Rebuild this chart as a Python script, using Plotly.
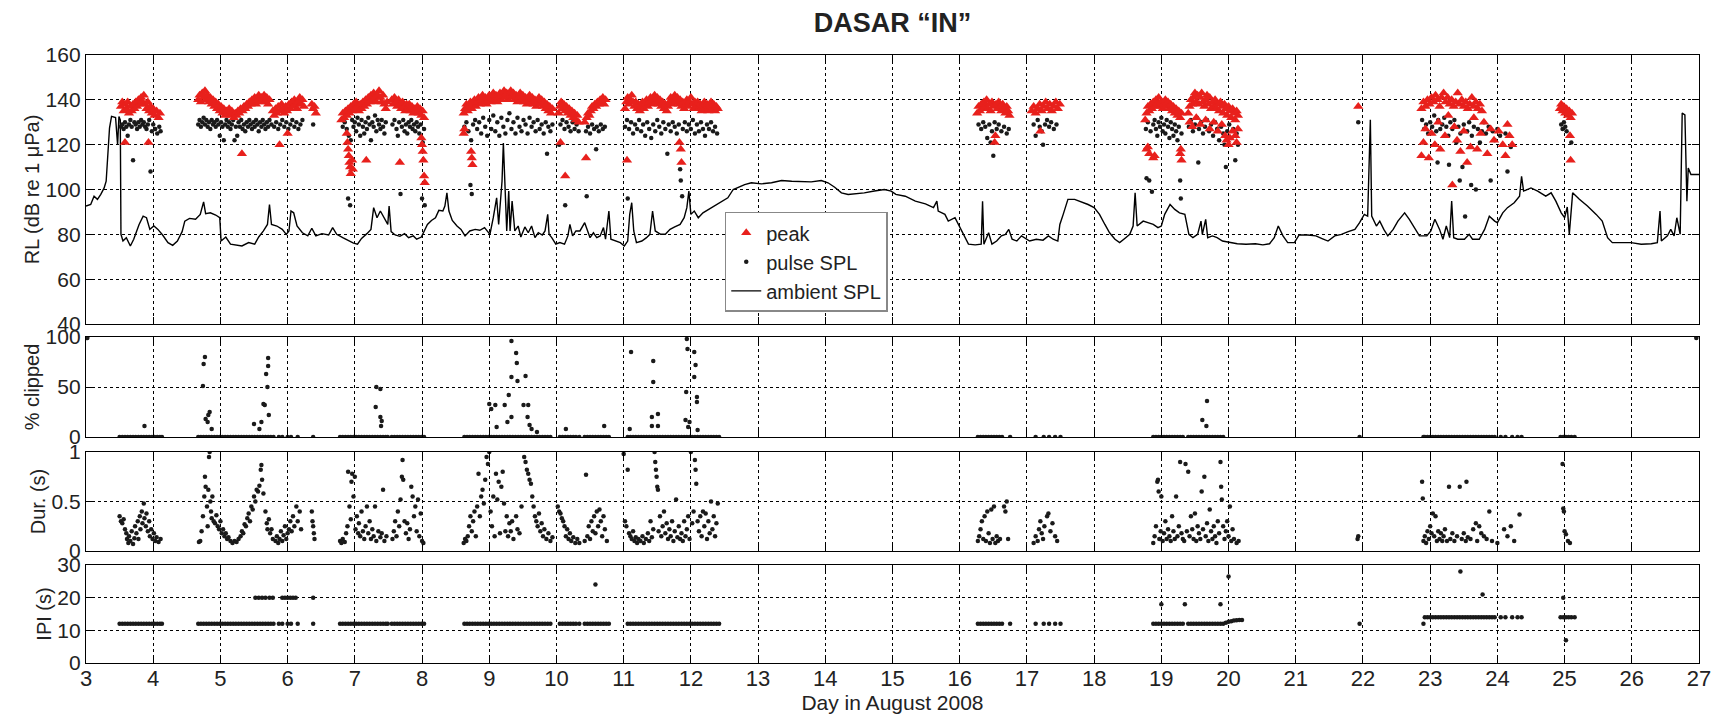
import plotly.graph_objects as go
from plotly.subplots import make_subplots

# ambient SPL (day, dB)
ambient = [
    (3.00, 92.6), (3.07, 93.3), (3.12, 97.0), (3.17, 95.6), (3.22, 97.8), (3.27, 100.7), (3.30, 103.7),
    (3.33, 115.6), (3.35, 127.4), (3.38, 132.6), (3.44, 132.1), (3.47, 120.0), (3.49, 132.6), (3.51, 131.0),
    (3.52, 80.0), (3.55, 77.0), (3.60, 78.5), (3.66, 74.8), (3.71, 77.8), (3.79, 84.4), (3.85, 88.1),
    (3.90, 87.4), (3.95, 82.2), (4.01, 83.7), (4.07, 82.2), (4.14, 79.7), (4.22, 76.3), (4.29, 75.1),
    (4.36, 77.0), (4.43, 81.2), (4.47, 85.9), (4.54, 87.1), (4.63, 86.7), (4.70, 88.9), (4.75, 94.5),
    (4.78, 89.2), (4.85, 89.6), (4.93, 88.6), (4.99, 87.4), (5.01, 77.0), (5.08, 78.8), (5.15, 75.6),
    (5.22, 75.3), (5.32, 74.8), (5.42, 76.3), (5.51, 75.6), (5.57, 78.8), (5.64, 81.5), (5.70, 84.4),
    (5.73, 93.3), (5.76, 84.4), (5.84, 83.7), (5.92, 82.2), (5.98, 80.0), (6.02, 81.5), (6.05, 90.4),
    (6.09, 89.6), (6.14, 83.7), (6.22, 80.7), (6.30, 79.3), (6.36, 82.7), (6.42, 79.3), (6.51, 80.3),
    (6.61, 79.7), (6.67, 83.0), (6.73, 80.0), (6.82, 78.5), (6.91, 77.0), (6.98, 76.1), (7.04, 75.6),
    (7.10, 78.2), (7.18, 80.3), (7.24, 82.2), (7.28, 91.9), (7.33, 87.4), (7.38, 90.4), (7.44, 87.1),
    (7.49, 84.4), (7.51, 92.6), (7.54, 81.2), (7.60, 79.7), (7.67, 79.1), (7.74, 80.3), (7.80, 78.5),
    (7.87, 79.3), (7.92, 77.8), (7.99, 78.8), (8.03, 81.5), (8.08, 84.4), (8.14, 86.2), (8.20, 87.4),
    (8.25, 90.7), (8.31, 90.4), (8.34, 92.6), (8.37, 98.5), (8.40, 90.4), (8.45, 86.2), (8.52, 83.7),
    (8.58, 82.2), (8.64, 79.3), (8.71, 81.5), (8.79, 82.2), (8.86, 81.8), (8.93, 83.0), (8.99, 80.7),
    (9.01, 80.0), (9.06, 87.4), (9.11, 96.3), (9.14, 84.4), (9.19, 103.7), (9.21, 120.7), (9.24, 90.4),
    (9.26, 81.5), (9.29, 99.3), (9.31, 81.5), (9.34, 94.8), (9.38, 81.5), (9.43, 83.7), (9.47, 78.8),
    (9.53, 83.3), (9.58, 80.7), (9.63, 83.7), (9.68, 78.5), (9.73, 80.7), (9.79, 79.7), (9.83, 81.5),
    (9.87, 88.9), (9.89, 80.0), (9.93, 78.5), (9.99, 75.6), (10.05, 76.3), (10.12, 75.6), (10.17, 79.3),
    (10.20, 84.4), (10.24, 79.3), (10.29, 81.5), (10.35, 81.5), (10.42, 85.2), (10.45, 83.0), (10.50, 78.5),
    (10.55, 80.7), (10.60, 78.5), (10.65, 79.3), (10.70, 83.0), (10.73, 77.8), (10.78, 90.4), (10.81, 77.8),
    (10.87, 77.0), (10.95, 76.3), (11.01, 74.8), (11.06, 77.0), (11.09, 88.9), (11.12, 94.1), (11.15, 81.5),
    (11.19, 76.3), (11.27, 77.0), (11.34, 78.5), (11.39, 80.0), (11.43, 90.4), (11.47, 81.5), (11.55, 80.0),
    (11.62, 80.0), (11.69, 82.2), (11.76, 83.3), (11.84, 84.4), (11.90, 87.4), (11.94, 91.9), (11.97, 99.3),
    (12.00, 88.9), (12.05, 90.4), (12.11, 87.4), (12.18, 89.6), (12.26, 91.1), (12.36, 92.6), (12.46, 94.8),
    (12.55, 96.3), (12.63, 100.0), (12.70, 101.0), (12.80, 102.2), (12.90, 103.0), (13.05, 102.5),
    (13.20, 103.0), (13.35, 104.0), (13.50, 103.7), (13.64, 103.7), (13.79, 103.4), (13.94, 104.0),
    (14.04, 103.0), (14.14, 101.0), (14.24, 98.5), (14.34, 97.8), (14.44, 98.1), (14.58, 98.5),
    (14.73, 99.3), (14.88, 100.0), (14.98, 99.3), (15.05, 97.8), (15.19, 97.0), (15.34, 94.8),
    (15.49, 93.6), (15.61, 91.9), (15.66, 94.8), (15.68, 90.4), (15.78, 88.9), (15.83, 85.9), (15.93, 87.4),
    (15.98, 84.4), (16.05, 80.7), (16.13, 75.6), (16.23, 75.3), (16.32, 75.6), (16.34, 94.8), (16.36, 75.6),
    (16.43, 80.7), (16.48, 75.6), (16.55, 77.0), (16.62, 79.3), (16.68, 80.0), (16.73, 82.2), (16.78, 77.8),
    (16.85, 77.0), (16.92, 79.3), (16.98, 78.2), (17.04, 77.0), (17.14, 77.8), (17.24, 77.4), (17.32, 79.3),
    (17.39, 77.8), (17.46, 77.0), (17.49, 84.4), (17.54, 88.9), (17.61, 95.6), (17.71, 95.6), (17.81, 94.5),
    (17.91, 93.3), (18.00, 91.9), (18.08, 88.9), (18.16, 84.4), (18.23, 80.7), (18.31, 77.8), (18.38, 76.3),
    (18.47, 78.5), (18.53, 80.0), (18.58, 83.7), (18.61, 98.5), (18.64, 83.7), (18.73, 85.9), (18.80, 85.2),
    (18.88, 84.4), (18.95, 83.0), (19.00, 83.7), (19.05, 88.9), (19.13, 93.3), (19.20, 91.1), (19.27, 89.6),
    (19.35, 88.9), (19.41, 80.0), (19.47, 78.5), (19.54, 80.0), (19.59, 85.9), (19.61, 80.0), (19.66, 86.7),
    (19.69, 78.5), (19.76, 79.3), (19.83, 78.5), (19.91, 77.0), (20.01, 76.3), (20.13, 75.8), (20.26, 75.6),
    (20.40, 75.8), (20.51, 75.3), (20.61, 75.8), (20.68, 78.5), (20.74, 83.7), (20.81, 79.3), (20.88, 76.3),
    (20.98, 76.3), (21.05, 79.7), (21.18, 79.7), (21.30, 79.3), (21.40, 78.0), (21.48, 77.0), (21.58, 79.3),
    (21.68, 80.0), (21.78, 81.2), (21.88, 82.2), (21.95, 85.2), (22.02, 88.9), (22.07, 88.1), (22.11, 131.1),
    (22.13, 88.1), (22.20, 83.7), (22.25, 85.9), (22.31, 82.2), (22.37, 79.3), (22.45, 82.2), (22.52, 85.9),
    (22.62, 89.6), (22.69, 86.7), (22.77, 83.0), (22.84, 79.3), (22.95, 79.3), (23.01, 81.5), (23.07, 86.7),
    (23.14, 82.2), (23.19, 77.8), (23.24, 83.7), (23.29, 78.5), (23.32, 94.8), (23.35, 78.5), (23.41, 77.8),
    (23.51, 77.8), (23.58, 80.0), (23.63, 77.8), (23.73, 77.8), (23.81, 82.2), (23.88, 88.1), (23.96, 85.9),
    (24.00, 85.2), (24.08, 89.6), (24.15, 91.9), (24.25, 94.1), (24.33, 97.0), (24.36, 105.9), (24.39, 99.3),
    (24.50, 100.7), (24.60, 99.3), (24.72, 97.0), (24.80, 98.5), (24.87, 94.8), (24.95, 89.6), (25.00, 87.4),
    (25.04, 92.2), (25.07, 80.0), (25.12, 98.5), (25.22, 95.6), (25.34, 92.6), (25.47, 88.9), (25.56, 85.9),
    (25.64, 78.5), (25.71, 76.3), (25.84, 76.3), (25.99, 76.3), (26.14, 75.6), (26.29, 75.8), (26.38, 76.3),
    (26.42, 90.4), (26.44, 77.0), (26.53, 79.3), (26.58, 82.2), (26.63, 79.3), (26.67, 87.4), (26.72, 80.0),
    (26.75, 134.1), (26.79, 133.3), (26.82, 94.8), (26.84, 109.6), (26.88, 106.7), (27.00, 106.7),
]

# peak RL (day, dB)
peak = [
    (3.52, 137), (3.54, 139), (3.56, 135), (3.58, 138), (3.60, 136), (3.62, 139), (3.64, 134), (3.66, 137),
    (3.68, 135), (3.70, 138), (3.72, 136), (3.74, 139), (3.76, 137), (3.78, 140), (3.80, 138), (3.82, 141),
    (3.84, 139), (3.86, 142), (3.88, 138), (3.90, 136), (3.92, 139), (3.94, 135), (3.96, 137), (3.98, 134),
    (4.00, 136), (4.02, 133), (4.05, 135), (4.08, 132), (4.10, 134), (3.58, 121), (3.93, 121),
    (4.67, 140), (4.69, 142), (4.71, 139), (4.73, 143), (4.75, 141), (4.77, 144), (4.79, 140), (4.81, 142),
    (4.83, 139), (4.85, 141), (4.87, 138), (4.89, 140), (4.91, 137), (4.93, 139), (4.95, 136), (4.97, 138),
    (4.99, 135), (5.01, 137), (5.03, 134), (5.05, 136), (5.07, 133), (5.09, 135), (5.11, 134), (5.13, 136),
    (5.15, 133), (5.17, 135), (5.20, 132), (5.22, 134), (5.24, 133), (5.26, 135), (5.28, 134), (5.30, 136),
    (5.32, 116), (5.33, 135), (5.35, 137), (5.37, 136), (5.39, 138), (5.41, 137), (5.43, 139), (5.45, 138),
    (5.47, 140), (5.49, 139), (5.51, 141), (5.53, 138), (5.55, 140), (5.57, 142), (5.59, 139), (5.61, 141),
    (5.63, 140), (5.65, 142), (5.67, 139), (5.69, 141), (5.71, 138), (5.73, 140), (5.78, 135), (5.80, 133),
    (5.82, 136), (5.84, 134), (5.86, 137), (5.88, 120), (5.89, 135), (5.91, 138), (5.93, 136), (5.95, 134),
    (5.97, 137), (5.99, 135), (6.00, 125), (6.02, 138), (6.04, 136), (6.06, 139), (6.08, 137), (6.10, 140),
    (6.12, 138), (6.14, 136), (6.16, 139), (6.18, 141), (6.20, 138), (6.22, 140), (6.24, 137),
    (6.36, 138), (6.38, 136), (6.40, 137), (6.42, 134),
    (6.80, 131), (6.82, 134), (6.84, 132), (6.86, 135), (6.88, 133), (6.90, 136), (6.92, 134), (6.94, 137),
    (6.96, 135), (6.98, 138), (7.00, 136), (7.02, 139), (7.04, 137), (7.06, 135), (7.08, 138), (7.10, 136),
    (7.12, 139), (7.14, 137), (7.16, 140), (7.18, 138), (7.20, 141), (7.22, 139), (7.24, 142), (7.26, 140),
    (7.28, 143), (7.30, 141), (7.32, 139), (7.34, 142), (7.36, 144), (7.38, 141), (7.40, 139), (7.42, 142),
    (7.44, 138), (7.46, 136), (7.48, 139), (6.88, 125), (6.89, 121), (6.90, 118), (6.91, 115), (6.92, 112),
    (6.93, 110), (6.94, 107), (6.96, 113), (6.97, 109), (7.17, 113),
    (7.55, 140), (7.57, 138), (7.59, 141), (7.61, 139), (7.63, 137), (7.65, 140), (7.67, 138), (7.69, 136),
    (7.71, 139), (7.73, 137), (7.75, 135), (7.77, 138), (7.79, 136), (7.81, 138), (7.83, 135), (7.85, 137),
    (7.87, 134), (7.89, 136), (7.91, 135), (7.93, 137), (7.95, 134), (7.97, 136), (7.99, 133), (8.01, 135),
    (8.03, 132), (7.67, 112), (7.99, 123), (8.00, 120), (8.01, 117), (8.02, 113), (8.03, 106), (8.04, 103),
    (8.62, 134), (8.64, 136), (8.66, 138), (8.68, 135), (8.70, 137), (8.72, 139), (8.74, 136), (8.76, 138),
    (8.78, 140), (8.80, 137), (8.82, 139), (8.84, 141), (8.86, 138), (8.88, 140), (8.90, 142), (8.92, 139),
    (8.94, 141), (8.96, 138), (8.98, 140), (9.00, 142), (9.02, 139), (9.04, 141), (9.06, 143), (9.08, 140),
    (9.10, 142), (9.12, 139), (9.14, 141), (9.16, 143), (9.18, 140), (9.20, 142), (9.22, 144), (9.24, 141),
    (9.26, 143), (9.28, 140), (9.30, 142), (9.32, 144), (9.34, 141), (9.36, 143), (9.38, 140), (9.40, 142),
    (9.42, 139), (9.44, 141), (9.46, 143), (9.48, 140), (9.50, 142), (9.52, 139), (9.54, 141), (9.56, 138),
    (9.58, 140), (9.60, 142), (9.62, 139), (9.64, 141), (9.66, 138), (9.68, 140), (9.70, 137), (9.72, 139),
    (9.74, 141), (9.76, 138), (9.78, 140), (9.80, 137), (9.82, 139), (9.84, 136), (9.86, 138), (9.88, 135),
    (9.90, 137), (9.92, 134), (9.94, 136), (8.62, 125), (8.63, 127), (8.73, 117), (8.74, 114), (8.75, 111),
    (10.03, 134), (10.05, 137), (10.07, 139), (10.09, 136), (10.11, 138), (10.13, 135), (10.15, 137),
    (10.17, 134), (10.19, 136), (10.21, 133), (10.23, 135), (10.25, 132), (10.27, 134), (10.29, 131),
    (10.31, 133), (10.33, 130), (10.06, 121), (10.13, 106),
    (10.42, 130), (10.44, 114), (10.45, 132), (10.47, 134), (10.49, 133), (10.51, 135), (10.53, 137),
    (10.55, 136), (10.57, 138), (10.59, 137), (10.61, 139), (10.63, 138), (10.65, 140), (10.67, 139),
    (10.69, 141), (10.71, 138), (10.73, 140),
    (11.02, 136), (11.04, 139), (11.06, 141), (11.08, 138), (11.10, 140), (11.12, 142), (11.14, 139),
    (11.16, 137), (11.18, 139), (11.20, 136), (11.22, 138), (11.24, 135), (11.26, 137), (11.28, 139),
    (11.30, 136), (11.32, 138), (11.34, 140), (11.36, 137), (11.38, 139), (11.40, 141), (11.42, 138),
    (11.44, 140), (11.46, 142), (11.48, 139), (11.50, 141), (11.52, 138), (11.54, 140), (11.56, 137),
    (11.58, 139), (11.60, 136), (11.62, 138), (11.64, 135), (11.66, 137), (11.68, 139), (11.70, 141),
    (11.72, 138), (11.74, 140), (11.76, 142), (11.78, 139), (11.80, 141), (11.82, 138), (11.84, 140),
    (11.86, 137), (11.88, 139), (11.90, 136), (11.92, 138), (11.94, 140), (11.96, 137), (11.98, 139),
    (12.00, 141), (12.02, 138), (12.04, 136), (12.06, 139), (12.08, 137), (12.10, 139), (12.12, 136),
    (12.14, 138), (12.16, 135), (12.18, 137), (12.20, 139), (12.22, 136), (12.24, 138), (12.26, 135),
    (12.28, 137), (12.30, 139), (12.32, 136), (12.34, 138), (12.36, 135), (12.38, 137), (12.40, 136),
    (11.05, 113), (11.83, 121), (11.85, 118), (11.86, 112),
    (16.26, 134), (16.28, 137), (16.30, 135), (16.32, 138), (16.34, 136), (16.36, 139), (16.38, 137),
    (16.40, 140), (16.42, 136), (16.44, 138), (16.46, 135), (16.48, 139), (16.50, 137), (16.52, 121),
    (16.53, 124), (16.54, 138), (16.56, 136), (16.58, 139), (16.60, 137), (16.62, 135), (16.64, 138),
    (16.66, 136), (16.68, 134), (16.70, 137), (16.72, 135), (16.74, 133),
    (17.07, 135), (17.10, 137), (17.13, 134), (17.16, 136), (17.19, 138), (17.20, 126), (17.22, 135),
    (17.25, 137), (17.28, 139), (17.31, 136), (17.34, 138), (17.37, 135), (17.40, 137), (17.43, 139),
    (17.46, 136), (17.49, 138),
    (18.76, 131), (18.78, 134), (18.80, 137), (18.82, 135), (18.84, 138), (18.86, 136), (18.88, 139),
    (18.90, 137), (18.92, 140), (18.94, 138), (18.96, 141), (18.98, 137), (19.00, 139), (19.02, 136),
    (19.04, 138), (19.06, 140), (19.08, 137), (19.10, 139), (19.12, 136), (19.14, 138), (19.16, 135),
    (19.18, 137), (19.20, 134), (19.22, 136), (19.24, 133), (19.26, 135), (19.28, 132), (19.30, 134),
    (18.78, 118), (18.80, 119), (18.82, 116), (18.88, 114), (18.90, 115), (19.28, 116), (19.30, 113),
    (19.29, 118),
    (19.40, 134), (19.42, 137), (19.44, 140), (19.46, 138), (19.48, 141), (19.50, 143), (19.52, 139),
    (19.54, 142), (19.56, 138), (19.58, 141), (19.60, 143), (19.62, 139), (19.64, 137), (19.66, 140),
    (19.68, 142), (19.70, 138), (19.72, 141), (19.74, 136), (19.76, 139), (19.78, 137), (19.80, 140),
    (19.82, 136), (19.84, 138), (19.86, 135), (19.88, 139), (19.90, 137), (19.92, 134), (19.94, 138),
    (19.96, 136), (19.98, 133), (20.00, 137), (20.02, 135), (20.04, 132), (20.06, 136), (20.08, 134),
    (20.10, 131), (20.12, 135), (20.14, 133), (19.42, 130), (19.46, 128), (19.52, 132), (19.58, 129),
    (19.66, 131), (19.72, 127), (19.78, 130), (19.84, 126), (19.90, 129), (19.95, 124), (19.97, 122),
    (20.00, 120), (20.02, 123), (20.06, 126), (20.10, 124), (20.12, 121), (20.14, 127),
    (21.93, 137),
    (22.87, 136), (22.90, 139), (22.93, 137), (22.96, 140), (22.99, 138), (23.02, 141), (23.05, 139),
    (23.08, 142), (23.11, 140), (23.14, 137), (23.17, 141), (23.20, 143), (23.23, 139), (23.26, 141),
    (23.29, 138), (23.32, 140), (23.35, 137), (23.38, 139), (23.41, 143), (23.44, 138), (23.47, 140),
    (23.50, 137), (23.53, 139), (23.56, 136), (23.59, 138), (23.62, 141), (23.65, 137), (23.68, 139),
    (23.71, 136), (23.74, 138), (23.77, 135), (22.87, 115), (22.90, 121), (22.93, 127), (22.98, 114),
    (23.02, 125), (23.07, 120), (23.12, 130), (23.15, 118), (23.22, 124), (23.27, 133), (23.33, 102),
    (23.36, 128), (23.40, 122), (23.45, 117), (23.50, 126), (23.55, 112), (23.60, 119), (23.65, 132),
    (23.70, 118), (23.75, 125), (23.80, 130), (23.85, 116), (23.90, 127), (23.95, 122), (24.02, 126),
    (24.08, 120), (24.12, 115), (24.15, 129), (24.18, 124), (24.22, 120),
    (24.93, 136), (24.95, 138), (24.97, 135), (24.99, 137), (25.01, 134), (25.03, 136), (25.05, 133),
    (25.07, 135), (25.09, 132), (25.11, 134), (25.08, 124), (25.09, 113),
]

# pulse SPL (day, dB)
pulse = [
    (3.52, 128), (3.54, 129), (3.56, 127), (3.58, 130), (3.60, 128), (3.62, 124), (3.64, 129), (3.66, 131),
    (3.68, 128), (3.70, 113), (3.72, 130), (3.74, 129), (3.76, 127), (3.78, 130), (3.80, 128), (3.82, 131),
    (3.84, 129), (3.86, 130), (3.88, 128), (3.90, 127), (3.92, 129), (3.94, 131), (3.96, 108), (3.98, 126),
    (4.00, 129), (4.03, 127), (4.06, 125), (4.09, 128), (4.11, 126),
    (4.67, 129), (4.69, 131), (4.71, 128), (4.73, 130), (4.75, 132), (4.77, 129), (4.79, 131), (4.81, 128),
    (4.83, 130), (4.85, 127), (4.87, 131), (4.89, 129), (4.91, 130), (4.93, 128), (4.95, 131), (4.97, 129),
    (4.99, 124), (5.01, 130), (5.03, 128), (5.05, 122), (5.07, 129), (5.09, 131), (5.11, 128), (5.13, 130),
    (5.15, 127), (5.17, 129), (5.19, 131), (5.21, 122), (5.23, 128), (5.25, 124), (5.27, 130), (5.29, 128),
    (5.31, 131), (5.33, 127), (5.35, 129), (5.37, 126), (5.39, 130), (5.41, 128), (5.43, 131), (5.45, 129),
    (5.47, 127), (5.49, 130), (5.51, 128), (5.53, 131), (5.55, 129), (5.57, 126), (5.59, 130), (5.61, 128),
    (5.63, 131), (5.65, 129), (5.67, 127), (5.69, 130), (5.71, 128), (5.73, 131), (5.76, 129), (5.80, 128),
    (5.83, 130), (5.86, 127), (5.89, 129), (5.92, 131), (5.95, 128), (5.98, 130), (6.01, 127), (6.04, 129),
    (6.07, 131), (6.10, 128), (6.13, 130), (6.16, 127), (6.19, 129), (6.22, 131), (6.38, 129),
    (6.82, 128), (6.85, 130), (6.88, 127), (6.90, 96), (6.91, 124), (6.93, 93), (6.94, 122), (6.96, 131),
    (6.98, 128), (7.00, 130), (7.02, 126), (7.04, 132), (7.06, 129), (7.08, 124), (7.10, 131), (7.12, 128),
    (7.14, 125), (7.16, 130), (7.18, 127), (7.20, 132), (7.22, 129), (7.24, 122), (7.26, 130), (7.28, 128),
    (7.30, 133), (7.32, 126), (7.34, 131), (7.36, 129), (7.38, 127), (7.40, 131), (7.42, 128), (7.44, 125),
    (7.46, 130),
    (7.56, 129), (7.59, 131), (7.62, 127), (7.64, 124), (7.66, 130), (7.68, 98), (7.70, 128), (7.72, 131),
    (7.74, 126), (7.76, 129), (7.78, 125), (7.80, 130), (7.82, 128), (7.84, 131), (7.86, 127), (7.88, 129),
    (7.90, 126), (7.92, 130), (7.94, 128), (7.96, 125), (7.98, 129), (8.00, 96), (8.01, 121), (8.03, 127),
    (8.04, 93),
    (8.63, 128), (8.66, 130), (8.69, 126), (8.72, 102), (8.73, 122), (8.74, 98), (8.76, 129), (8.79, 131),
    (8.82, 127), (8.85, 130), (8.88, 125), (8.91, 132), (8.94, 128), (8.97, 124), (9.00, 131), (9.03, 127),
    (9.06, 133), (9.09, 126), (9.12, 130), (9.15, 124), (9.18, 132), (9.21, 128), (9.24, 125), (9.27, 131),
    (9.30, 134), (9.33, 127), (9.36, 130), (9.39, 125), (9.42, 132), (9.45, 128), (9.48, 126), (9.51, 131),
    (9.54, 129), (9.57, 125), (9.60, 132), (9.63, 128), (9.66, 130), (9.69, 126), (9.72, 131), (9.75, 127),
    (9.78, 129), (9.81, 125), (9.84, 130), (9.86, 116), (9.88, 128), (9.91, 126), (9.94, 129),
    (10.04, 120), (10.06, 129), (10.09, 131), (10.12, 127), (10.13, 93), (10.15, 130), (10.18, 128),
    (10.21, 126), (10.24, 130), (10.27, 127), (10.30, 129), (10.33, 126), (10.44, 126), (10.45, 97),
    (10.47, 128), (10.50, 125), (10.53, 129), (10.56, 127), (10.59, 118), (10.60, 128), (10.63, 126),
    (10.66, 129), (10.69, 127), (10.72, 128),
    (11.02, 128), (11.05, 131), (11.06, 96), (11.08, 127), (11.11, 130), (11.14, 125), (11.17, 129),
    (11.20, 127), (11.23, 131), (11.26, 126), (11.29, 129), (11.32, 124), (11.35, 130), (11.38, 127),
    (11.41, 123), (11.44, 129), (11.47, 126), (11.50, 131), (11.53, 128), (11.56, 125), (11.59, 130),
    (11.62, 127), (11.65, 116), (11.67, 129), (11.70, 126), (11.73, 130), (11.76, 128), (11.79, 125),
    (11.82, 129), (11.84, 109), (11.85, 104), (11.87, 97), (11.88, 127), (11.91, 130), (11.94, 126),
    (11.97, 129), (12.00, 127), (12.03, 131), (12.06, 125), (12.09, 129), (12.12, 126), (12.15, 130),
    (12.18, 127), (12.21, 124), (12.24, 129), (12.27, 127), (12.30, 130), (12.33, 126), (12.36, 128),
    (12.39, 125),
    (16.28, 129), (16.32, 127), (16.35, 130), (16.38, 128), (16.41, 123), (16.44, 129), (16.46, 121),
    (16.48, 126), (16.50, 115), (16.52, 130), (16.55, 127), (16.58, 129), (16.62, 126), (16.66, 128),
    (16.70, 125), (16.73, 127),
    (17.10, 129), (17.13, 124), (17.16, 131), (17.19, 128), (17.22, 126), (17.24, 120), (17.27, 129),
    (17.30, 131), (17.33, 128), (17.36, 130), (17.40, 127), (17.44, 129),
    (18.77, 127), (18.78, 105), (18.80, 130), (18.82, 104), (18.84, 126), (18.86, 99), (18.88, 129),
    (18.90, 131), (18.92, 127), (18.94, 124), (18.96, 130), (18.98, 128), (19.00, 132), (19.02, 126),
    (19.04, 129), (19.06, 125), (19.08, 131), (19.10, 128), (19.12, 123), (19.14, 130), (19.16, 127),
    (19.18, 124), (19.20, 129), (19.22, 126), (19.24, 122), (19.26, 128), (19.28, 104), (19.29, 96),
    (19.30, 125),
    (19.41, 128), (19.44, 131), (19.47, 126), (19.50, 129), (19.53, 132), (19.55, 112), (19.56, 127),
    (19.59, 130), (19.62, 125), (19.65, 128), (19.68, 131), (19.71, 126), (19.74, 129), (19.77, 124),
    (19.80, 130), (19.83, 127), (19.86, 122), (19.89, 128), (19.92, 125), (19.94, 120), (19.96, 110),
    (19.98, 126), (20.01, 129), (20.04, 123), (20.07, 127), (20.10, 113), (20.12, 125), (20.14, 120),
    (21.93, 130),
    (22.88, 131), (22.91, 127), (22.94, 129), (22.97, 125), (23.00, 130), (23.03, 128), (23.06, 133),
    (23.09, 126), (23.11, 112), (23.12, 131), (23.15, 127), (23.18, 129), (23.21, 132), (23.24, 128),
    (23.27, 124), (23.28, 111), (23.30, 130), (23.33, 127), (23.36, 131), (23.39, 121), (23.42, 128),
    (23.44, 104), (23.45, 125), (23.48, 110), (23.50, 129), (23.52, 88), (23.55, 126), (23.58, 130),
    (23.61, 102), (23.62, 124), (23.65, 128), (23.68, 100), (23.71, 127), (23.74, 121), (23.77, 126),
    (23.80, 130), (23.83, 125), (23.87, 128), (23.90, 104), (23.93, 126), (23.96, 122), (24.00, 127),
    (24.04, 124), (24.08, 120), (24.12, 125), (24.15, 108), (24.20, 119),
    (24.95, 129), (24.97, 127), (24.99, 130), (25.01, 128), (25.03, 126), (25.10, 121),
]

# IPI rows (days of pulses with the same IPI) and scattered IPI values
ipi_12_day = [
    3.50, 3.54, 3.58, 3.62, 3.66, 3.70, 3.74, 3.78, 3.82, 3.86, 3.90, 3.94, 3.98, 4.02, 4.06, 4.10, 4.13,
    4.67, 4.71, 4.75, 4.79, 4.83, 4.87, 4.91, 4.95, 4.99, 5.03, 5.07, 5.11, 5.15, 5.19, 5.23, 5.27, 5.31,
    5.35, 5.39, 5.43, 5.47, 5.51, 5.55, 5.59, 5.63, 5.67, 5.71, 5.75, 5.79, 5.87, 5.92, 6.00, 6.05, 6.15,
    6.38,
    6.78, 6.82, 6.86, 6.90, 6.94, 6.98, 7.02, 7.06, 7.10, 7.14, 7.18, 7.22, 7.26, 7.30, 7.34, 7.38, 7.42,
    7.46, 7.49, 7.55, 7.59, 7.63, 7.67, 7.71, 7.75, 7.79, 7.83, 7.87, 7.91, 7.95, 7.99, 8.03,
    8.63, 8.67, 8.71, 8.75, 8.79, 8.83, 8.87, 8.91, 8.95, 8.99, 9.03, 9.07, 9.11, 9.15, 9.19, 9.23, 9.27,
    9.31, 9.35, 9.39, 9.43, 9.47, 9.51, 9.55, 9.59, 9.63, 9.67, 9.71, 9.75, 9.79, 9.83, 9.87, 9.91,
    10.05, 10.09, 10.13, 10.17, 10.21, 10.25, 10.29, 10.34, 10.42, 10.46, 10.50, 10.54, 10.58, 10.62,
    10.66, 10.70, 10.74, 10.78,
    11.06, 11.10, 11.14, 11.18, 11.22, 11.26, 11.30, 11.34, 11.38, 11.42, 11.46, 11.50, 11.54, 11.58,
    11.62, 11.66, 11.70, 11.74, 11.78, 11.82, 11.86, 11.90, 11.94, 11.98, 12.02, 12.06, 12.10, 12.14,
    12.18, 12.22, 12.26, 12.30, 12.34, 12.38, 12.42,
    16.27, 16.31, 16.35, 16.39, 16.43, 16.47, 16.51, 16.55, 16.59, 16.63, 16.75,
    17.13, 17.25, 17.33, 17.42, 17.50,
    18.88, 18.92, 18.96, 19.00, 19.04, 19.08, 19.12, 19.16, 19.20, 19.24, 19.28, 19.32, 19.40, 19.44,
    19.48, 19.52, 19.56, 19.60, 19.64, 19.68, 19.72, 19.76, 19.80, 19.84, 19.88, 19.92,
    21.95, 22.90,
]
ipi_14_day = [
    22.92, 22.96, 23.00, 23.04, 23.08, 23.12, 23.16, 23.20, 23.24, 23.28, 23.32, 23.36, 23.40, 23.44,
    23.48, 23.52, 23.56, 23.60, 23.64, 23.68, 23.72, 23.76, 23.80, 23.84, 23.88, 23.92, 23.96, 24.05,
    24.12, 24.22, 24.30, 24.36,
    24.94, 24.98, 25.02, 25.06, 25.10, 25.15,
]
ipi_20_day = [5.52, 5.57, 5.62, 5.67, 5.73, 5.78, 5.92, 5.96, 6.00, 6.04, 6.08, 6.12, 6.38]
ipi_other = [
    (19.96, 12.3), (20.00, 12.6), (20.04, 12.8), (20.08, 13.0), (20.12, 13.1), (20.16, 13.2), (20.20, 13.2),
    (10.58, 24.0), (19.00, 18.0), (19.35, 18.0), (19.88, 18.0), (20.00, 26.5), (23.45, 28.0),
    (23.78, 21.0), (24.98, 20.0), (25.02, 7.0),
]

# % clipped above zero (day, %)
clip_high = [
    (3.02, 99), (3.87, 11), (4.77, 80), (4.75, 73), (4.74, 51), (4.84, 25), (4.82, 22), (4.78, 18),
    (4.81, 15), (4.87, 8), (5.71, 79), (5.71, 71), (5.68, 63), (5.70, 50), (5.64, 33), (5.66, 32),
    (5.72, 22), (5.61, 15), (5.50, 13), (5.58, 8), (7.32, 50), (7.38, 48), (7.31, 30), (7.38, 20),
    (7.40, 16), (7.39, 11), (9.33, 96), (9.40, 84), (9.41, 74), (9.33, 60), (9.42, 56), (9.54, 61),
    (9.29, 42), (9.00, 33), (9.09, 32), (9.23, 32), (9.51, 32), (9.58, 32), (9.03, 28), (9.27, 15),
    (9.33, 20), (9.57, 20), (9.11, 10), (9.60, 12), (9.63, 8), (9.71, 5), (10.14, 8), (10.71, 11),
    (11.11, 85), (11.44, 76), (11.44, 55), (11.42, 20), (11.51, 23), (11.42, 11), (11.51, 11),
    (11.94, 98), (11.95, 88), (12.05, 85), (12.07, 72), (12.05, 60), (11.93, 45), (12.09, 40),
    (12.09, 35), (11.92, 17), (11.98, 15), (11.96, 10), (12.10, 7), (11.09, 8),
    (19.68, 36), (19.61, 17), (19.67, 11), (26.96, 99),
]

# pulse duration (day, s)
duration = [
    (3.50, 0.35), (3.52, 0.30), (3.54, 0.28), (3.56, 0.32), (3.58, 0.22), (3.60, 0.18), (3.61, 0.12),
    (3.63, 0.08), (3.64, 0.15), (3.66, 0.10), (3.68, 0.20), (3.70, 0.07), (3.72, 0.13), (3.73, 0.25),
    (3.75, 0.18), (3.77, 0.30), (3.78, 0.12), (3.80, 0.35), (3.81, 0.22), (3.83, 0.40), (3.84, 0.28),
    (3.86, 0.48), (3.87, 0.33), (3.89, 0.25), (3.90, 0.38), (3.92, 0.20), (3.94, 0.30), (3.95, 0.15),
    (3.97, 0.22), (3.99, 0.12), (4.01, 0.18), (4.03, 0.10), (4.05, 0.14), (4.08, 0.09), (4.11, 0.12),
    (4.68, 0.09), (4.70, 0.10), (4.72, 0.20), (4.74, 0.35), (4.76, 0.55), (4.77, 0.75), (4.78, 0.65),
    (4.80, 0.45), (4.81, 0.25), (4.82, 0.62), (4.83, 0.95), (4.84, 1.00), (4.85, 0.50), (4.86, 0.40),
    (4.87, 0.33), (4.88, 0.55), (4.90, 0.30), (4.92, 0.28), (4.94, 0.36), (4.96, 0.25), (4.98, 0.22),
    (5.00, 0.30), (5.02, 0.18), (5.04, 0.22), (5.06, 0.15), (5.08, 0.18), (5.10, 0.12), (5.12, 0.14),
    (5.15, 0.10), (5.18, 0.08), (5.21, 0.10), (5.24, 0.09), (5.27, 0.12), (5.30, 0.15), (5.32, 0.20),
    (5.34, 0.18), (5.36, 0.27), (5.38, 0.25), (5.40, 0.33), (5.42, 0.38), (5.44, 0.30), (5.46, 0.45),
    (5.48, 0.42), (5.50, 0.55), (5.52, 0.50), (5.54, 0.62), (5.56, 0.60), (5.58, 0.66), (5.60, 0.82),
    (5.61, 0.87), (5.62, 0.72), (5.64, 0.58), (5.67, 0.40), (5.69, 0.28), (5.70, 0.22), (5.72, 0.32),
    (5.74, 0.18), (5.76, 0.22), (5.78, 0.12), (5.82, 0.10), (5.84, 0.15), (5.86, 0.08), (5.88, 0.12),
    (5.90, 0.20), (5.92, 0.10), (5.94, 0.16), (5.96, 0.25), (5.98, 0.12), (6.00, 0.18), (6.02, 0.22),
    (6.04, 0.30), (6.06, 0.20), (6.08, 0.35), (6.10, 0.25), (6.13, 0.45), (6.15, 0.30), (6.18, 0.40),
    (6.20, 0.22), (6.36, 0.40), (6.37, 0.30), (6.38, 0.25), (6.39, 0.18), (6.40, 0.12),
    (6.78, 0.10), (6.80, 0.08), (6.82, 0.12), (6.85, 0.09), (6.87, 0.18), (6.89, 0.25), (6.90, 0.80),
    (6.92, 0.45), (6.94, 0.32), (6.95, 0.70), (6.96, 0.78), (6.98, 0.55), (7.00, 0.75), (7.01, 0.22),
    (7.03, 0.35), (7.05, 0.18), (7.06, 0.28), (7.08, 0.15), (7.10, 0.40), (7.12, 0.20), (7.14, 0.12),
    (7.16, 0.25), (7.18, 0.45), (7.20, 0.18), (7.22, 0.30), (7.24, 0.12), (7.26, 0.22), (7.28, 0.15),
    (7.30, 0.45), (7.32, 0.10), (7.35, 0.20), (7.38, 0.14), (7.40, 0.18), (7.42, 0.62), (7.44, 0.10),
    (7.47, 0.15), (7.56, 0.12), (7.58, 0.20), (7.60, 0.30), (7.62, 0.15), (7.64, 0.40), (7.66, 0.25),
    (7.68, 0.52), (7.70, 0.75), (7.71, 0.92), (7.72, 0.72), (7.74, 0.30), (7.76, 0.18), (7.78, 0.28),
    (7.80, 0.12), (7.82, 0.22), (7.84, 0.65), (7.86, 0.55), (7.88, 0.35), (7.90, 0.45), (7.92, 0.20),
    (7.94, 0.52), (7.96, 0.15), (7.98, 0.38), (8.00, 0.10), (8.02, 0.08),
    (8.62, 0.08), (8.64, 0.12), (8.66, 0.10), (8.68, 0.15), (8.70, 0.25), (8.72, 0.35), (8.74, 0.20),
    (8.76, 0.30), (8.78, 0.40), (8.80, 0.15), (8.82, 0.45), (8.84, 0.78), (8.86, 0.35), (8.88, 0.55),
    (8.90, 0.62), (8.92, 0.48), (8.94, 0.72), (8.96, 0.95), (8.98, 0.88), (9.00, 1.00), (9.02, 0.40),
    (9.04, 0.25), (9.06, 0.55), (9.08, 0.15), (9.10, 0.78), (9.12, 0.52), (9.14, 0.70), (9.16, 0.18),
    (9.18, 0.65), (9.20, 0.80), (9.22, 0.48), (9.24, 0.20), (9.26, 0.35), (9.28, 0.15), (9.30, 0.28),
    (9.32, 0.20), (9.34, 0.30), (9.36, 0.12), (9.40, 0.35), (9.42, 0.22), (9.45, 0.18), (9.48, 0.45),
    (9.52, 0.95), (9.54, 0.90), (9.56, 0.82), (9.58, 0.78), (9.60, 0.72), (9.62, 0.68), (9.64, 0.55),
    (9.66, 0.45), (9.68, 0.35), (9.70, 0.30), (9.72, 0.25), (9.74, 0.38), (9.76, 0.20), (9.78, 0.28),
    (9.80, 0.15), (9.82, 0.22), (9.85, 0.12), (9.88, 0.18), (9.91, 0.10), (9.94, 0.14),
    (10.02, 0.45), (10.04, 0.40), (10.06, 0.38), (10.08, 0.33), (10.10, 0.30), (10.12, 0.25),
    (10.14, 0.15), (10.16, 0.22), (10.18, 0.12), (10.20, 0.18), (10.22, 0.10), (10.25, 0.14),
    (10.28, 0.08), (10.31, 0.12), (10.34, 0.08), (10.42, 0.10), (10.44, 0.77), (10.46, 0.15),
    (10.48, 0.25), (10.50, 0.12), (10.52, 0.30), (10.54, 0.20), (10.56, 0.35), (10.58, 0.18),
    (10.60, 0.40), (10.62, 0.25), (10.64, 0.42), (10.66, 0.30), (10.68, 0.15), (10.70, 0.35),
    (10.72, 0.22), (10.75, 0.10),
    (11.00, 0.98), (11.02, 0.30), (11.04, 0.25), (11.06, 0.82), (11.08, 0.18), (11.10, 0.15),
    (11.12, 0.12), (11.14, 0.20), (11.16, 0.10), (11.18, 0.14), (11.20, 0.08), (11.22, 0.12),
    (11.25, 0.10), (11.28, 0.15), (11.30, 0.08), (11.33, 0.12), (11.36, 0.18), (11.38, 0.10),
    (11.40, 0.30), (11.42, 0.14), (11.44, 0.22), (11.46, 1.00), (11.47, 0.90), (11.48, 0.82),
    (11.49, 0.75), (11.50, 0.65), (11.51, 0.62), (11.52, 0.20), (11.54, 0.35), (11.56, 0.15),
    (11.58, 0.25), (11.60, 0.40), (11.62, 0.18), (11.64, 0.28), (11.66, 0.12), (11.68, 0.22),
    (11.70, 0.15), (11.72, 0.30), (11.74, 0.10), (11.76, 0.20), (11.78, 0.52), (11.80, 0.14),
    (11.82, 0.25), (11.84, 0.12), (11.86, 0.18), (11.88, 0.10), (11.90, 0.30), (11.92, 0.15),
    (11.94, 0.22), (11.96, 0.35), (11.98, 0.12), (12.00, 1.00), (12.02, 0.28), (12.04, 0.40),
    (12.06, 0.92), (12.07, 0.82), (12.08, 0.68), (12.10, 0.30), (12.12, 0.20), (12.14, 0.35),
    (12.16, 0.15), (12.18, 0.40), (12.20, 0.25), (12.22, 0.38), (12.24, 0.12), (12.26, 0.30),
    (12.28, 0.18), (12.30, 0.50), (12.32, 0.22), (12.34, 0.35), (12.36, 0.15), (12.38, 0.28),
    (12.40, 0.48),
    (16.27, 0.10), (16.29, 0.15), (16.31, 0.22), (16.33, 0.30), (16.35, 0.12), (16.37, 0.35),
    (16.39, 0.10), (16.41, 0.40), (16.43, 0.18), (16.45, 0.08), (16.47, 0.42), (16.49, 0.12),
    (16.51, 0.45), (16.53, 0.08), (16.55, 0.15), (16.57, 0.10), (16.60, 0.12), (16.66, 0.45),
    (16.68, 0.40), (16.70, 0.50), (16.72, 0.12), (17.10, 0.08), (17.13, 0.15), (17.16, 0.10),
    (17.18, 0.22), (17.20, 0.30), (17.22, 0.18), (17.24, 0.12), (17.26, 0.25), (17.30, 0.35),
    (17.32, 0.38), (17.35, 0.20), (17.38, 0.28), (17.42, 0.15), (17.45, 0.10),
    (18.88, 0.08), (18.90, 0.15), (18.92, 0.25), (18.94, 0.70), (18.95, 0.72), (18.96, 0.60),
    (18.97, 0.12), (18.99, 0.20), (19.00, 0.55), (19.02, 0.10), (19.04, 0.18), (19.06, 0.30),
    (19.08, 0.12), (19.10, 0.22), (19.12, 0.15), (19.14, 0.10), (19.16, 0.35), (19.18, 0.20),
    (19.20, 0.12), (19.22, 0.55), (19.24, 0.15), (19.26, 0.25), (19.28, 0.90), (19.30, 0.18),
    (19.32, 0.12), (19.34, 0.10), (19.36, 0.88), (19.38, 0.20), (19.40, 0.80), (19.42, 0.15),
    (19.44, 0.35), (19.46, 0.22), (19.48, 0.12), (19.50, 0.38), (19.52, 0.10), (19.54, 0.25),
    (19.56, 0.18), (19.58, 0.12), (19.60, 0.60), (19.62, 0.22), (19.64, 0.75), (19.66, 0.15),
    (19.68, 0.28), (19.70, 0.10), (19.72, 0.42), (19.74, 0.20), (19.76, 0.12), (19.78, 0.25),
    (19.80, 0.15), (19.82, 0.08), (19.84, 0.30), (19.86, 0.18), (19.88, 0.90), (19.89, 0.65),
    (19.90, 0.52), (19.92, 0.25), (19.94, 0.12), (19.96, 0.20), (19.98, 0.30), (20.00, 0.15),
    (20.02, 0.45), (20.04, 0.10), (20.06, 0.22), (20.08, 0.12), (20.12, 0.08), (20.15, 0.10),
    (21.92, 0.12), (21.93, 0.15),
    (22.88, 0.70), (22.89, 0.53), (22.90, 0.10), (22.92, 0.15), (22.94, 0.08), (22.96, 0.20),
    (22.98, 0.12), (23.00, 0.25), (23.02, 0.18), (23.04, 0.38), (23.06, 0.15), (23.08, 0.35),
    (23.10, 0.10), (23.12, 0.20), (23.14, 0.12), (23.16, 0.18), (23.18, 0.10), (23.20, 0.15),
    (23.22, 0.22), (23.25, 0.10), (23.28, 0.65), (23.30, 0.12), (23.33, 0.18), (23.36, 0.10),
    (23.40, 0.15), (23.44, 0.65), (23.47, 0.12), (23.50, 0.18), (23.53, 0.10), (23.54, 0.70),
    (23.56, 0.14), (23.60, 0.12), (23.64, 0.22), (23.68, 0.28), (23.70, 0.10), (23.73, 0.25),
    (23.76, 0.18), (23.80, 0.15), (23.84, 0.12), (23.88, 0.40), (23.92, 0.10), (24.00, 0.08),
    (24.10, 0.22), (24.15, 0.15), (24.20, 0.25), (24.25, 0.10), (24.33, 0.37),
    (24.97, 0.88), (24.98, 0.43), (24.99, 0.40), (25.00, 0.20), (25.02, 0.17), (25.05, 0.10),
    (25.08, 0.08),
]

FONT = "Liberation Sans, Arial, Helvetica, sans-serif"
TXT = "#222"
RED = "#e8201c"
DOT = "#1a1a1a"


def split(pairs):
    return [p[0] for p in pairs], [p[1] for p in pairs]


fig = make_subplots(rows=4, cols=1, shared_xaxes=True)

amb_x, amb_y = split(ambient)
peak_x, peak_y = split(peak)
pulse_x, pulse_y = split(pulse)

fig.add_trace(go.Scatter(x=amb_x, y=amb_y, mode="lines", name="ambient SPL", legendrank=3,
                         line=dict(color="black", width=1.4)), row=1, col=1)
fig.add_trace(go.Scatter(x=pulse_x, y=pulse_y, mode="markers", name="pulse SPL", legendrank=2,
                         marker=dict(symbol="circle", size=4.5, color=DOT)), row=1, col=1)
fig.add_trace(go.Scatter(x=peak_x, y=peak_y, mode="markers", name="peak", legendrank=1,
                         marker=dict(symbol="triangle-up", size=9, color=RED)), row=1, col=1)

# % clipped
clip_zero_day = ipi_12_day + ipi_14_day
clip_x, clip_y = split(clip_high)
fig.add_trace(go.Scatter(x=clip_zero_day + clip_x, y=[0] * len(clip_zero_day) + clip_y, mode="markers",
                         showlegend=False, marker=dict(size=4.5, color=DOT)), row=2, col=1)

# duration
dur_x, dur_y = split(duration)
fig.add_trace(go.Scatter(x=dur_x, y=dur_y, mode="markers", showlegend=False,
                         marker=dict(size=4.5, color=DOT)), row=3, col=1)

# IPI
oth_x, oth_y = split(ipi_other)
ipi_x = ipi_12_day + ipi_14_day + ipi_20_day + oth_x
ipi_y = [12] * len(ipi_12_day) + [14] * len(ipi_14_day) + [20] * len(ipi_20_day) + oth_y
fig.add_trace(go.Scatter(x=ipi_x, y=ipi_y, mode="markers", showlegend=False,
                         marker=dict(size=4.5, color=DOT)), row=4, col=1)

axis_style = dict(showline=True, linecolor="black", linewidth=1.3, mirror="allticks",
                  ticks="inside", ticklen=7, tickcolor="black", tickwidth=1,
                  showgrid=True, gridcolor="black", griddash="dot", gridwidth=1,
                  zeroline=False, tickfont=dict(family=FONT, size=21, color=TXT))

fig.update_xaxes(range=[3, 27], dtick=1, tick0=3, **axis_style)
fig.update_xaxes(showticklabels=False, row=1, col=1)
fig.update_xaxes(showticklabels=False, row=2, col=1)
fig.update_xaxes(showticklabels=False, row=3, col=1)
fig.update_xaxes(showticklabels=True, ticklabelstandoff=-5, tickfont=dict(family=FONT, size=22, color=TXT),
                 title=dict(text="Day in August 2008", font=dict(family=FONT, size=21, color=TXT),
                            standoff=2), row=4, col=1)

ytitle_font = dict(family=FONT, size=20, color=TXT)
fig.update_yaxes(**axis_style)
fig.update_yaxes(range=[40, 160], dtick=20, domain=[0.5576, 1.0],
                 title=dict(text="RL (dB re 1 μPa)", font=ytitle_font, standoff=0), row=1, col=1)
fig.update_yaxes(range=[0, 100], tickvals=[0, 50, 100], domain=[0.3717, 0.5362],
                 title=dict(text="% clipped", font=ytitle_font, standoff=0), row=2, col=1)
fig.update_yaxes(range=[0, 1], tickvals=[0, 0.5, 1], ticktext=["0", "0.5", "1"], domain=[0.1842, 0.3470],
                 title=dict(text="Dur. (s)", font=ytitle_font, standoff=0), row=3, col=1)
fig.update_yaxes(range=[0, 30], tickvals=[0, 10, 20, 30], domain=[0.0, 0.1612],
                 title=dict(text="IPI (s)", font=ytitle_font, standoff=0), row=4, col=1)

fig.update_layout(
    width=1722, height=721,
    margin=dict(l=78, r=31, t=47, b=66),
    paper_bgcolor="white", plot_bgcolor="white",
    title=dict(text="<b>DASAR “IN”</b>", x=0.5, xref="paper", xanchor="center",
               y=0.993, yref="container", yanchor="top",
               font=dict(family=FONT, size=27, color=TXT)),
    legend=dict(x=0.396, y=0.742, xanchor="left", yanchor="top", bgcolor="white",
                bordercolor="#888", borderwidth=1.5, font=dict(family=FONT, size=20, color=TXT),
                tracegroupgap=0, itemwidth=30),
    showlegend=True,
)

fig.write_html("out.html")
